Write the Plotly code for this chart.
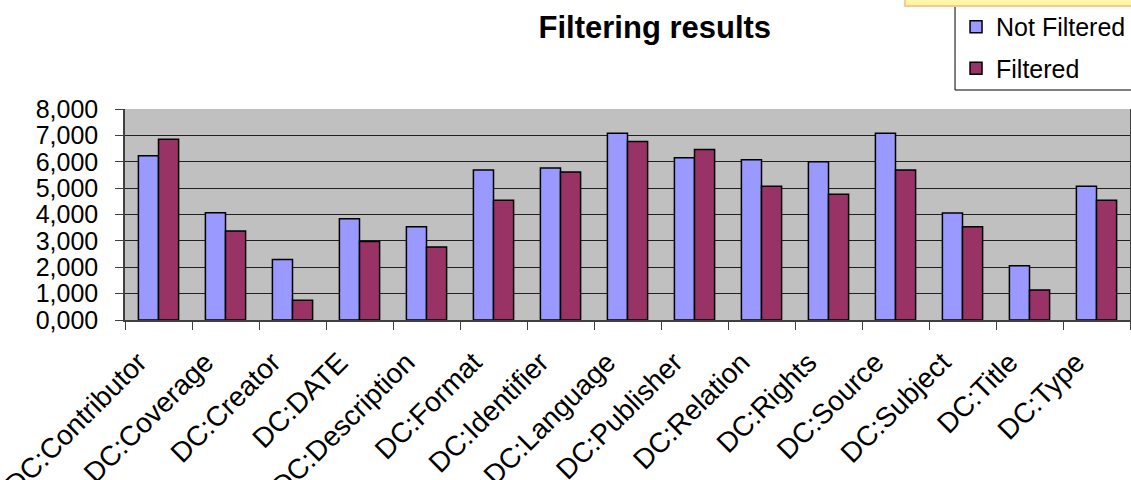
import plotly.graph_objects as go

categories = ["DC:Contributor", "DC:Coverage", "DC:Creator", "DC:DATE", "DC:Description",
              "DC:Format", "DC:Identifier", "DC:Language", "DC:Publisher", "DC:Relation",
              "DC:Rights", "DC:Source", "DC:Subject", "DC:Title", "DC:Type"]
not_filtered = [6.23, 4.07, 2.29, 3.84, 3.54, 5.69, 5.76, 7.08, 6.15, 6.08, 6.00, 7.08, 4.06, 2.06, 5.07]
filtered = [6.85, 3.37, 0.75, 2.98, 2.77, 4.54, 5.61, 6.77, 6.46, 5.07, 4.77, 5.69, 3.54, 1.14, 4.54]
y_tick_vals = [0, 1, 2, 3, 4, 5, 6, 7, 8]
y_tick_text = ["0,000", "1,000", "2,000", "3,000", "4,000", "5,000", "6,000", "7,000", "8,000"]

FONT = "Liberation Sans, Arial, sans-serif"

fig = go.Figure()
fig.add_trace(go.Bar(x=categories, y=not_filtered, name="Not Filtered",
                     marker=dict(color="#9999FF", line=dict(color="black", width=1.5)),
                     legendgroup="a"))
fig.add_trace(go.Bar(x=categories, y=filtered, name="Filtered",
                     marker=dict(color="#993366", line=dict(color="black", width=1.5)),
                     legendgroup="b"))

fig.update_layout(
    width=1131, height=480,
    margin=dict(l=125, r=1, t=109, b=160, autoexpand=False),
    paper_bgcolor="white",
    plot_bgcolor="#C0C0C0",
    barmode="group", bargap=0.4, bargroupgap=0,
    font=dict(family=FONT, color="black", size=24),
    title=dict(text="<b>Filtering results</b>", x=0.579, xref="container", xanchor="center",
               y=0.944, yref="container", yanchor="middle",
               font=dict(family=FONT, size=31, color="black")),
    legend=dict(x=0.8269, xanchor="left", y=1.498, yanchor="top",
                bgcolor="rgba(0,0,0,0)", borderwidth=0,
                font=dict(family=FONT, size=25, color="black"),
                traceorder="grouped", tracegroupgap=6),
    showlegend=True,
    shapes=[
        # legend frame
        dict(type="rect", xref="paper", yref="paper", x0=0.8259, x1=1.02,
             y0=1.090, y1=1.6, fillcolor="white", line=dict(color="black", width=1),
             layer="above"),
        # pale yellow strip across the top right
        dict(type="rect", xref="paper", yref="paper", x0=0.776, x1=1.01,
             y0=1.488, y1=1.56, fillcolor="#FFF8A8", line=dict(color="#F8C890", width=2),
             layer="above"),
    ],
)

fig.update_xaxes(
    tickangle=-45, tickson="boundaries", ticks="outside", ticklen=8, tickcolor="#404040",
    showline=True, linecolor="#404040", linewidth=1.5, showgrid=False,
    tickfont=dict(family=FONT, size=28, color="black"),
    ticklabelshift=-20, ticklabelstandoff=13,
)
fig.update_yaxes(
    range=[0, 8], tickvals=y_tick_vals, ticktext=y_tick_text,
    ticks="outside", ticklen=8, tickcolor="#404040",
    showline=True, linecolor="#404040", linewidth=1.5, mirror=True,
    showgrid=True, gridcolor="#202020", gridwidth=1,
    zeroline=False,
    tickfont=dict(family=FONT, size=25, color="black"),
    ticklabelstandoff=12,
)

fig.write_html("out.html", config={"displayModeBar": False},
               post_script="document.body.style.margin='0';")
